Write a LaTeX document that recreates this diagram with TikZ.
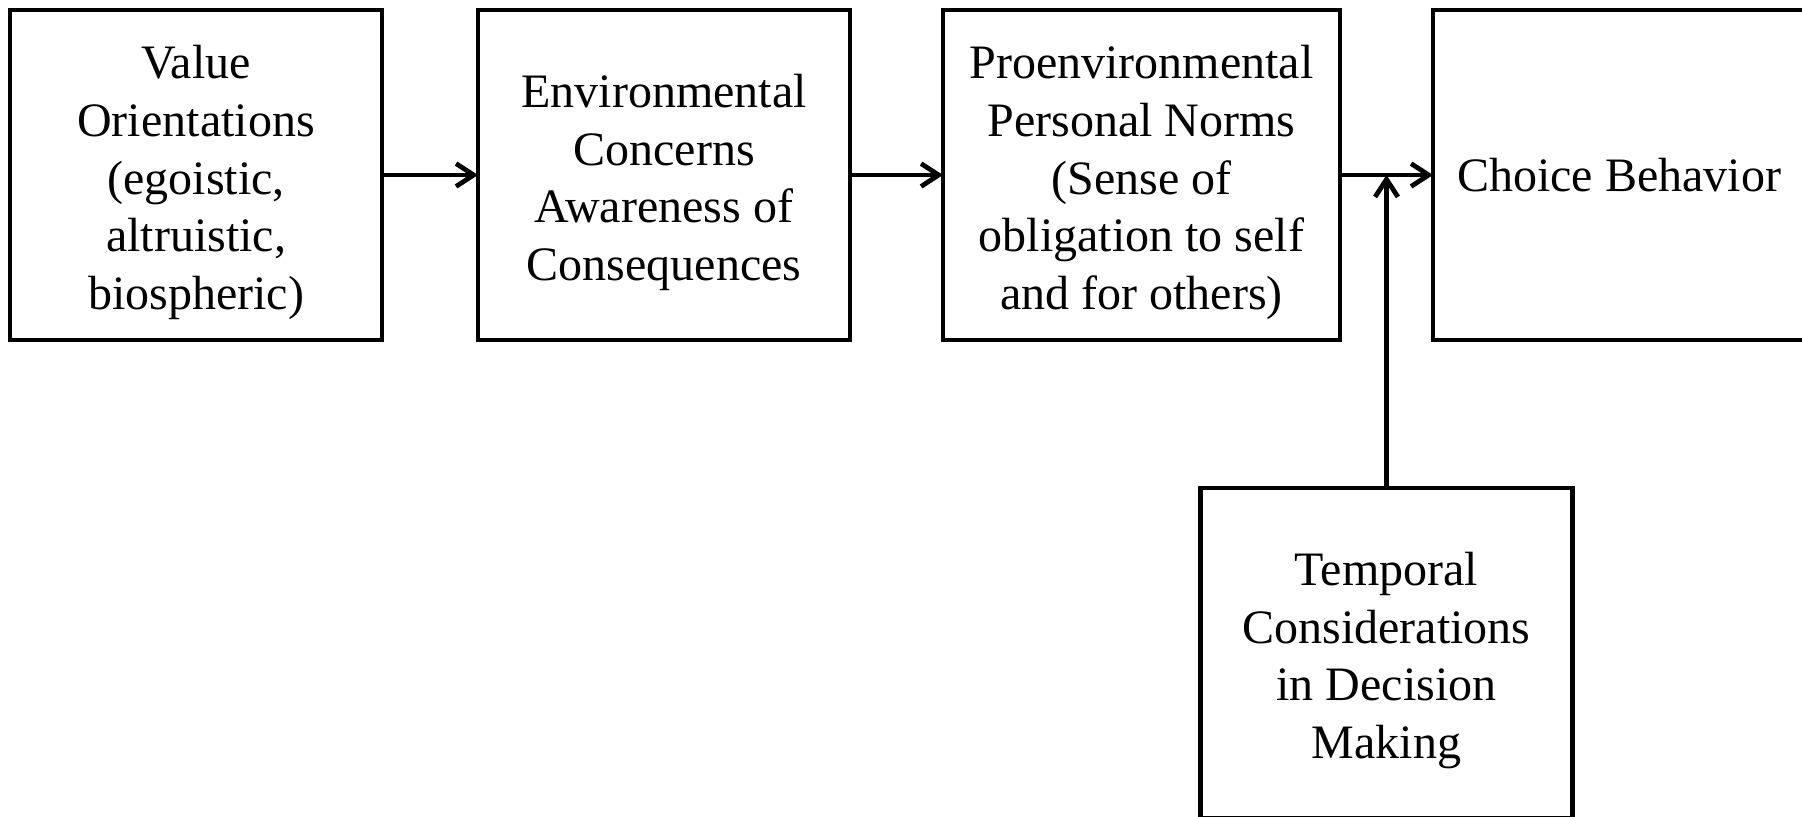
\documentclass[tikz,border=0pt]{standalone}
\usepackage{fontspec}
\setmainfont{Liberation Serif}
\usetikzlibrary{arrows.meta,positioning,calc}
\newcommand{\topstrut}{\rule{0pt}{13.8pt}}

\begin{document}
\begin{tikzpicture}[>={Straight Barb[length=5pt,width=6.5pt]},line width=1.35pt,node distance=9.3mm,
  box/.style={draw,rectangle,outer sep=0pt,minimum width=3.72cm,minimum height=3.3cm,align=center,
    font=\fontsize{13.66}{16.4}\selectfont}]

            \useasboundingbox (0,0) rectangle (18.02,-8.16);
            \clip (0,0) rectangle (18.02,-8.16);

            \node[box] (vo) at (1.96,-1.75) {\topstrut Value\\Orientations\\(egoistic,\\altruistic,\\biospheric)};

            \node[box] (ec) [right=9.6mm of vo] {\topstrut Environmental\\Concerns\\Awareness of\\Consequences};

            \node[box,minimum width=3.97cm] (pn) [right=of ec] {\topstrut Proenvironmental\\Personal Norms\\(Sense of\\obligation to self\\and for others)};

            \node[box] (cb) [right=of pn] {Choice Behavior};

            \coordinate (join) at ($(pn.east)!0.5!(cb.west)$);

            \node[box] (tc) [below=3.13cm of join] {\topstrut Temporal\\Considerations\\in Decision\\Making};

            

            \path[->] (vo) edge (ec)

                      (ec) edge (pn)

                      (pn) edge (cb)

                      (tc) edge (join);

        \end{tikzpicture}
\end{document}
